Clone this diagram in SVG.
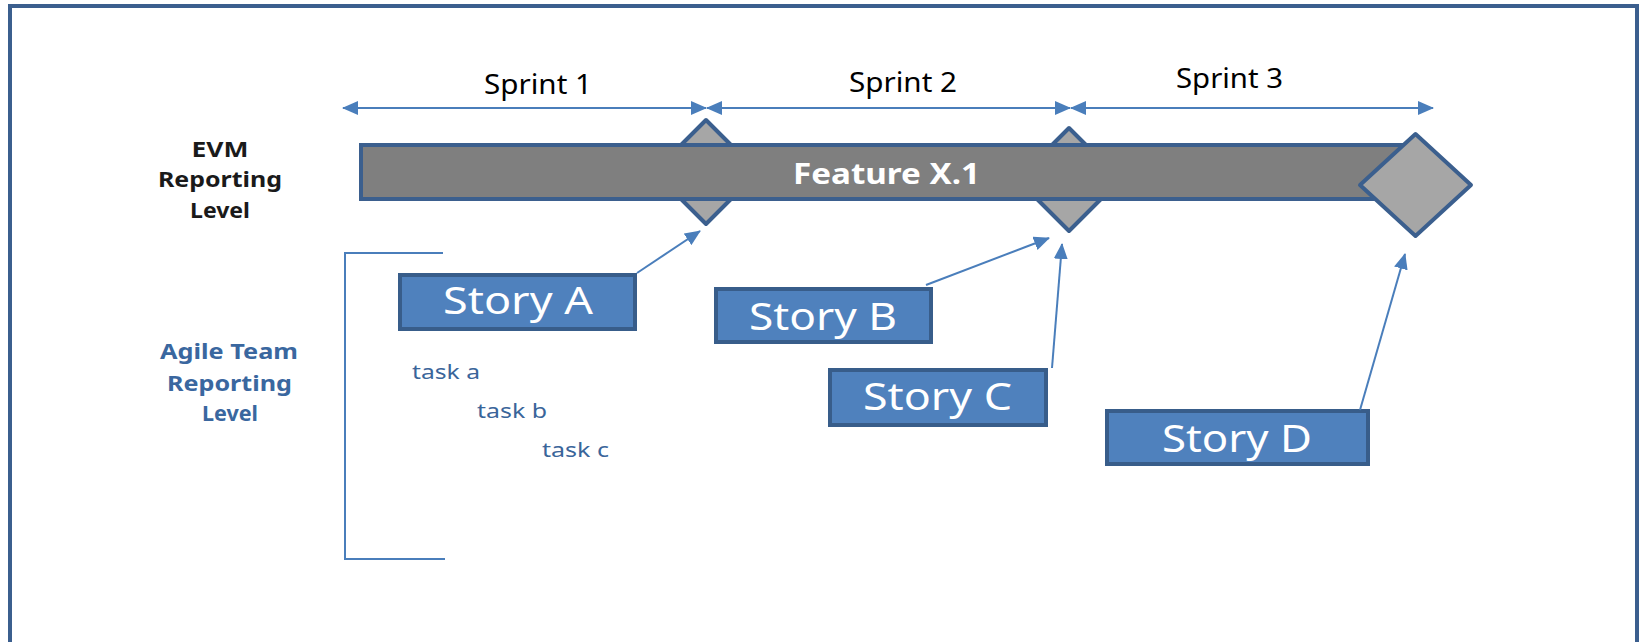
<svg xmlns="http://www.w3.org/2000/svg" width="1640" height="642" viewBox="0 0 1640 642">
<style>
.frame{fill:none;stroke:#3B5F8E;stroke-width:4}
.conn{fill:none;stroke:#4A7EBB;stroke-width:2}
.bar{fill:#7F7F7F;stroke:#3B5F8E;stroke-width:4}
.dia{fill:#A6A6A6;stroke:#3B5F8E;stroke-width:4;stroke-linejoin:round}
.story{fill:#4F81BD;stroke:#385D8A;stroke-width:4}
.st{font-family:"Noto Sans","Open Sans",sans-serif;font-size:38px;fill:#FFFFFF;text-anchor:middle}
.sp{font-family:"Noto Sans","Open Sans",sans-serif;font-size:28px;fill:#000000;text-anchor:middle}
.evm{font-family:"Noto Sans","Open Sans",sans-serif;font-size:22px;font-weight:bold;fill:#1A1A1A;text-anchor:middle}
.ag{font-family:"Noto Sans","Open Sans",sans-serif;font-size:21px;font-weight:bold;fill:#3A679F;text-anchor:middle}
.task{font-family:"Noto Sans","Open Sans",sans-serif;font-size:20.5px;fill:#3A659A}
.feat{font-family:"Noto Sans","Open Sans",sans-serif;font-size:29px;font-weight:bold;fill:#FFFFFF;text-anchor:middle}
</style>
<defs>
<marker id="ah" viewBox="0 0 16 14" refX="15" refY="7" markerWidth="16" markerHeight="14" markerUnits="userSpaceOnUse" orient="auto-start-reverse">
<path d="M0,0 L16,7 L0,14 Z" fill="#4A7EBB"/>
</marker>
</defs>
<rect x="0" y="0" width="1640" height="642" fill="#FFFFFF"/>
<rect class="frame" x="10" y="6" width="1627" height="700"/>

<g id="sprints">
<text class="sp" x="538" y="94" textLength="108" lengthAdjust="spacingAndGlyphs">Sprint 1</text>
<text class="sp" x="903" y="92" textLength="108" lengthAdjust="spacingAndGlyphs">Sprint 2</text>
<text class="sp" x="1229.5" y="88" textLength="107" lengthAdjust="spacingAndGlyphs">Sprint 3</text>
</g>

<g id="evm-label">
<text class="evm" x="220" y="157" textLength="57" lengthAdjust="spacingAndGlyphs">EVM</text>
<text class="evm" x="220" y="187" textLength="124" lengthAdjust="spacingAndGlyphs">Reporting</text>
<text class="evm" x="220" y="218" textLength="60" lengthAdjust="spacingAndGlyphs">Level</text>
</g>

<g id="agile-label">
<text class="ag" x="229" y="359" textLength="138" lengthAdjust="spacingAndGlyphs">Agile Team</text>
<text class="ag" x="229.5" y="391" textLength="125" lengthAdjust="spacingAndGlyphs">Reporting</text>
<text class="ag" x="230" y="421" textLength="56" lengthAdjust="spacingAndGlyphs">Level</text>
</g>

<g id="milestone1"><path class="dia" d="M706,120 L758,172 L706,224 L654,172 Z"/></g>
<g id="milestone2"><path class="dia" d="M1069,128 L1120.5,179.5 L1069,231 L1017.5,179.5 Z"/></g>
<g id="feature">
<rect class="bar" x="361" y="145" width="1046" height="54"/>
<text class="feat" x="886.5" y="184" textLength="187" lengthAdjust="spacingAndGlyphs">Feature X.1</text>
</g>
<g id="milestone3"><path class="dia" d="M1415.5,134 L1471,185 L1415.5,236 L1360,185 Z"/></g>

<g id="bracket"><polyline class="conn" points="443,253 345,253 345,559 445,559"/></g>

<g id="storyA">
<rect class="story" x="400" y="275" width="235" height="54"/>
<text class="st" x="518" y="314" textLength="150" lengthAdjust="spacingAndGlyphs">Story A</text>
</g>
<g id="storyB">
<rect class="story" x="716" y="289" width="215" height="53"/>
<text class="st" x="823" y="330" textLength="148" lengthAdjust="spacingAndGlyphs">Story B</text>
</g>
<g id="storyC">
<rect class="story" x="830" y="370" width="216" height="55"/>
<text class="st" x="937.5" y="410" textLength="149" lengthAdjust="spacingAndGlyphs">Story C</text>
</g>
<g id="storyD">
<rect class="story" x="1107" y="411" width="261" height="53"/>
<text class="st" x="1237" y="452" textLength="150" lengthAdjust="spacingAndGlyphs">Story D</text>
</g>

<g id="tasks">
<text class="task" x="412" y="379" textLength="68" lengthAdjust="spacingAndGlyphs">task a</text>
<text class="task" x="477" y="418" textLength="70" lengthAdjust="spacingAndGlyphs">task b</text>
<text class="task" x="542" y="457" textLength="67" lengthAdjust="spacingAndGlyphs">task c</text>
</g>

<g id="connectors">
<line class="conn" x1="343" y1="108" x2="706" y2="108" marker-start="url(#ah)" marker-end="url(#ah)"/>
<line class="conn" x1="707" y1="108" x2="1070" y2="108" marker-start="url(#ah)" marker-end="url(#ah)"/>
<line class="conn" x1="1071" y1="108" x2="1433" y2="108" marker-start="url(#ah)" marker-end="url(#ah)"/>
<line class="conn" x1="637" y1="273" x2="700" y2="231" marker-end="url(#ah)"/>
<line class="conn" x1="926" y1="285" x2="1049" y2="238" marker-end="url(#ah)"/>
<line class="conn" x1="1052" y1="368" x2="1062" y2="244" marker-end="url(#ah)"/>
<line class="conn" x1="1360" y1="410" x2="1405" y2="254" marker-end="url(#ah)"/>
</g>
</svg>
